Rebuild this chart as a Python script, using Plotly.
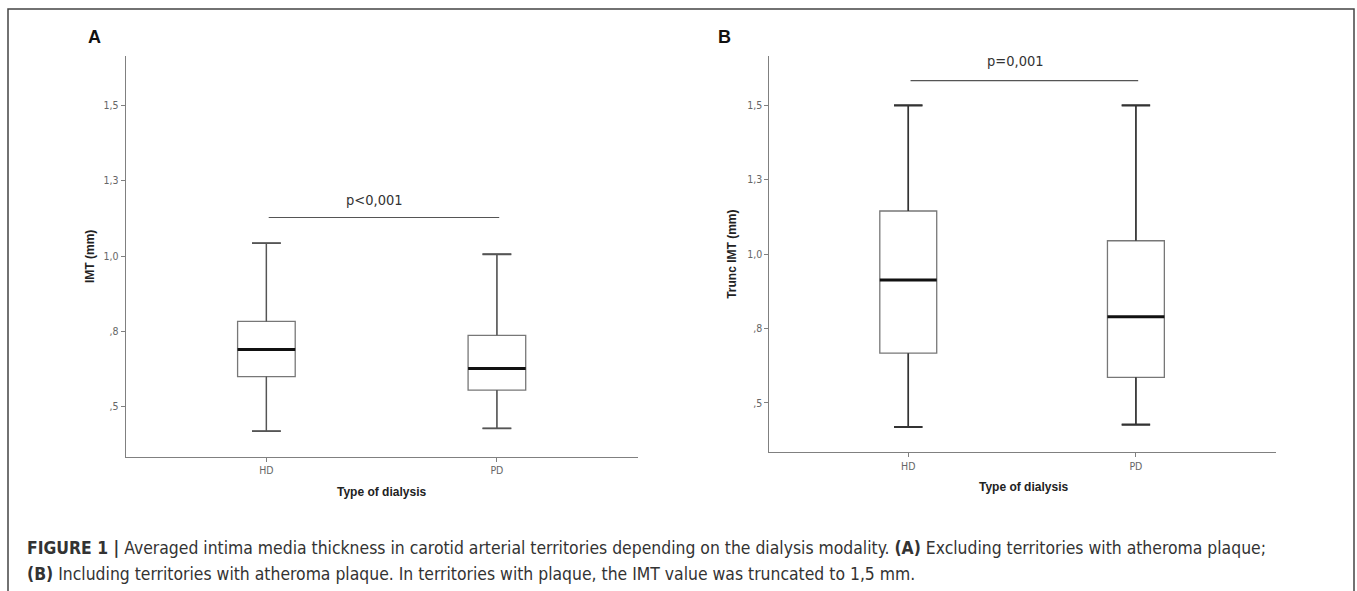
import plotly.graph_objects as go

W, H = 1357, 591

categories = ["HD", "PD"]
cat_pos = [0, 1]

# Panel A: IMT excluding plaque territories (box statistics)
a_lower = [0.419, 0.428]
a_q1 = [0.600, 0.555]
a_median = [0.690, 0.627]
a_q3 = [0.783, 0.737]
a_upper = [1.043, 1.006]

# Panel B: truncated IMT including plaque territories
b_lower = [0.419, 0.427]
b_q1 = [0.667, 0.586]
b_median = [0.913, 0.790]
b_q3 = [1.145, 1.045]
b_upper = [1.500, 1.500]

y_tickvals = [0.5, 0.75, 1.0, 1.25, 1.5]
y_ticktext = [",5", ",8", "1,0", "1,3", "1,5"]

sig_a = {"text": "p<0,001", "y": 1.128}
sig_b = {"text": "p=0,001", "y": 1.583}

BOX_W = 0.25
CAP = 0.5

def px(x):
    return x / W

def py(y):
    return 1 - y / H

fig = go.Figure()

def add_panel(xa, ya, lower, q1, med, q3, upper, wcol, wwidth):
    fig.add_trace(go.Box(
        x=cat_pos, q1=q1, median=med, q3=q3, lowerfence=lower, upperfence=upper,
        width=BOX_W, whiskerwidth=CAP, fillcolor="white",
        line=dict(color="#777777", width=1.3), boxpoints=False,
        xaxis=xa, yaxis=ya, showlegend=False, hoverinfo="skip"))
    for i, c in enumerate(cat_pos):
        # whiskers
        for a, b in ((lower[i], q1[i]), (q3[i], upper[i])):
            fig.add_trace(go.Scatter(x=[c, c], y=[a, b], mode="lines",
                                     line=dict(color=wcol, width=wwidth),
                                     xaxis=xa, yaxis=ya, showlegend=False, hoverinfo="skip"))
        for v in (lower[i], upper[i]):
            fig.add_trace(go.Scatter(x=[c - BOX_W * CAP / 2, c + BOX_W * CAP / 2], y=[v, v],
                                     mode="lines", line=dict(color=wcol, width=wwidth + 0.5),
                                     xaxis=xa, yaxis=ya, showlegend=False, hoverinfo="skip"))
        fig.add_trace(go.Scatter(x=[c - BOX_W / 2, c + BOX_W / 2], y=[med[i], med[i]],
                                 mode="lines", line=dict(color="#111111", width=3),
                                 xaxis=xa, yaxis=ya, showlegend=False, hoverinfo="skip"))

add_panel("x", "y", a_lower, a_q1, a_median, a_q3, a_upper, "#555555", 1.3)
add_panel("x2", "y2", b_lower, b_q1, b_median, b_q3, b_upper, "#333333", 1.6)

# significance bars
for xa, ya, sig in (("x", "y", sig_a), ("x2", "y2", sig_b)):
    fig.add_trace(go.Scatter(x=[cat_pos[0] + 0.01, cat_pos[1] + 0.01], y=[sig["y"], sig["y"]],
                             mode="lines", line=dict(color="#555555", width=1.2),
                             xaxis=xa, yaxis=ya, showlegend=False, hoverinfo="skip"))

narrow = "DejaVu Sans Condensed, sans-serif"
sans = "Liberation Sans, Arial, sans-serif"

axis_common = dict(showline=True, linecolor="#808080", linewidth=1.2, showgrid=False,
                   zeroline=False, ticks="outside", ticklen=4, tickcolor="#808080",
                   tickfont=dict(family=narrow, size=10.5, color="#666666"), mirror=False)

fig.update_layout(
    width=W, height=H, margin=dict(l=0, r=0, t=0, b=0),
    paper_bgcolor="white", plot_bgcolor="white",
    xaxis=dict(domain=[px(125.8), px(637.5)], range=[-0.61, 1.61], tickvals=cat_pos,
               ticktext=categories, anchor="y", **axis_common),
    yaxis=dict(domain=[py(456.7), py(55.7)], range=[0.334, 1.665], tickvals=y_tickvals,
               ticktext=y_ticktext, anchor="x", **axis_common),
    xaxis2=dict(domain=[px(769.4), px(1275.9)], range=[-0.61, 1.615], tickvals=cat_pos,
                ticktext=categories, anchor="y2", **axis_common),
    yaxis2=dict(domain=[py(452.3), py(55.7)], range=[0.334, 1.667], tickvals=y_tickvals,
                ticktext=y_ticktext, anchor="x2", **axis_common),
)

ann = []
# significance text
ann.append(dict(x=0.47, y=sig_a["y"], xref="x", yref="y", text=sig_a["text"], showarrow=False,
                xanchor="center", yanchor="middle", yshift=17,
                font=dict(family=narrow, size=14.5, color="#333333")))
ann.append(dict(x=0.47, y=sig_b["y"], xref="x2", yref="y2", text=sig_b["text"], showarrow=False,
                xanchor="center", yanchor="middle", yshift=20,
                font=dict(family=narrow, size=14.5, color="#333333")))
# panel letters
ann.append(dict(x=px(94), y=py(37), xref="paper", yref="paper", text="<b>A</b>", showarrow=False,
                xanchor="center", yanchor="middle", font=dict(family=sans, size=18, color="#111111")))
ann.append(dict(x=px(724.5), y=py(37), xref="paper", yref="paper", text="<b>B</b>", showarrow=False,
                xanchor="center", yanchor="middle", font=dict(family=sans, size=18, color="#111111")))
# axis titles
ann.append(dict(x=px(90), y=py(257), xref="paper", yref="paper", text="<b>IMT (mm)</b>",
                xanchor="center", yanchor="middle", textangle=-90, showarrow=False,
                font=dict(family=sans, size=12, color="#222222")))
ann.append(dict(x=px(731.8), y=py(254), xref="paper", yref="paper", text="<b>Trunc IMT (mm)</b>",
                xanchor="center", yanchor="middle", textangle=-90, showarrow=False,
                font=dict(family=sans, size=12, color="#222222")))
ann.append(dict(x=px(381.6), y=py(491.7), xref="paper", yref="paper", text="<b>Type of dialysis</b>",
                xanchor="center", yanchor="middle", showarrow=False,
                font=dict(family=sans, size=12, color="#222222")))
ann.append(dict(x=px(1023), y=py(486.7), xref="paper", yref="paper", text="<b>Type of dialysis</b>",
                xanchor="center", yanchor="middle", showarrow=False,
                font=dict(family=sans, size=12, color="#222222")))
# caption
cap1 = ("<b>FIGURE 1 |</b> Averaged intima media thickness in carotid arterial territories depending "
        "on the dialysis modality. <b>(A)</b> Excluding territories with atheroma plaque;")
cap2 = ("<b>(B)</b> Including territories with atheroma plaque. In territories with plaque, "
        "the IMT value was truncated to 1,5 mm.")
ann.append(dict(x=px(25), y=py(548), xref="paper", yref="paper", text=cap1, xanchor="left",
                yanchor="middle", showarrow=False,
                font=dict(family=narrow, size=17.4, color="#333333")))
ann.append(dict(x=px(25), y=py(574), xref="paper", yref="paper", text=cap2, xanchor="left",
                yanchor="middle", showarrow=False,
                font=dict(family=narrow, size=17.4, color="#333333")))
fig.update_layout(annotations=ann)

# outer frame of the figure
fig.add_shape(type="rect", xref="paper", yref="paper", x0=px(8), x1=px(1354),
              y0=-0.1, y1=py(9), line=dict(color="#444444", width=1.5))

fig.write_html("out.html", config={"displayModeBar": False},
               post_script="document.body.style.margin='0';document.body.style.overflow='hidden';")
